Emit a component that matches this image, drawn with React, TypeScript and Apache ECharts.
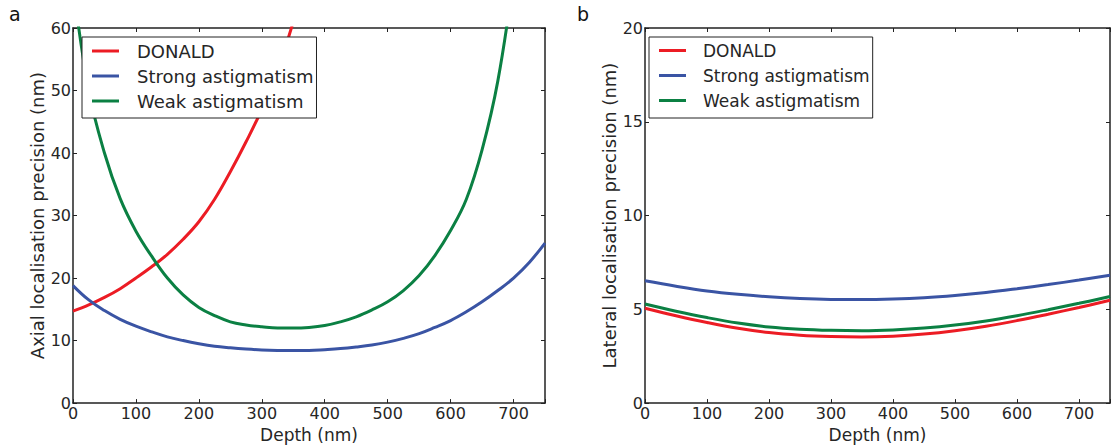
import React, { useEffect, useRef } from "react";
import * as echarts from "echarts";

// Depth (nm) sampling for panel a
const axialX = [0, 25, 50, 75, 100, 125, 150, 175, 200, 225, 250, 275, 300, 325, 350, 375, 400, 425, 450, 475, 500, 525, 550, 575, 600, 625, 650, 675, 700, 725, 750];

// Axial precision (nm), panel a
const axialDonald = [14.7, 15.7, 16.9, 18.3, 20.0, 21.8, 23.8, 26.2, 29.0, 32.6, 37.0, 41.8, 47.0, 53.2, 61.0];
const axialStrong = [18.8, 16.5, 14.8, 13.4, 12.3, 11.4, 10.6, 10.0, 9.5, 9.1, 8.85, 8.65, 8.5, 8.42, 8.4, 8.42, 8.55, 8.72, 8.98, 9.3, 9.75, 10.35, 11.1, 12.1, 13.2, 14.6, 16.2, 18.0, 20.0, 22.5, 25.6];
const axialWeak = [67, 50.0, 40.0, 32.7, 27.5, 23.5, 20.0, 17.3, 15.3, 14.0, 13.0, 12.5, 12.2, 12.0, 12.0, 12.1, 12.4, 13.0, 13.8, 14.9, 16.2, 18.0, 20.4, 23.6, 27.6, 32.6, 40.5, 51.5, 68.0];

// Depth (nm) sampling for panel b
const lateralX = [0, 50, 100, 150, 200, 250, 300, 350, 400, 450, 500, 550, 600, 650, 700, 750];

// Lateral precision (nm), panel b
const lateralDonald = [5.06, 4.66, 4.30, 3.99, 3.76, 3.62, 3.55, 3.53, 3.57, 3.68, 3.86, 4.10, 4.40, 4.74, 5.10, 5.48];
const lateralStrong = [6.52, 6.23, 5.98, 5.80, 5.67, 5.58, 5.53, 5.52, 5.55, 5.62, 5.74, 5.90, 6.10, 6.32, 6.56, 6.82];
const lateralWeak = [5.28, 4.90, 4.56, 4.27, 4.06, 3.94, 3.88, 3.86, 3.90, 4.00, 4.16, 4.38, 4.66, 4.98, 5.32, 5.68];

const seriesNames = ["DONALD", "Strong astigmatism", "Weak astigmatism"];
const colors = ["#ec1c24", "#3a54a4", "#0b8043"];

const FONT = "DejaVu Sans";
const TEXT = "#262626";
const AX = "#222222";

function zip(xs: number[], ys: number[]) {
  return ys.map((y, i) => [xs[i], y]);
}

export default function App() {
  const ref = useRef<HTMLDivElement>(null);
  useEffect(() => {
    if (!ref.current) return;
    const chart = echarts.init(ref.current, null, { renderer: "svg" });
    const grids = [
      { left: 73, top: 28, width: 472, height: 378 },
      { left: 645, top: 28, width: 472, height: 378 },
    ];
    const xAxes: any[] = [];
    const yAxes: any[] = [];
    const yMax = [60, 20];
    const yInt = [10, 5];
    const yNames = ["Axial localisation precision (nm)", "Lateral localisation precision (nm)"];
    const tick = { show: true, inside: true, length: 4, lineStyle: { color: AX, width: 1 } };
    const line = { show: true, onZero: false, lineStyle: { color: AX, width: 1.5 } };
    for (let g = 0; g < 2; g++) {
      xAxes.push({
        gridIndex: g, type: "value", min: 0, max: 750, interval: 100, position: "bottom",
        splitLine: { show: false }, axisLine: line, axisTick: tick,
        axisLabel: {
          color: TEXT, fontFamily: FONT, fontSize: 16, margin: 5, lineHeight: 10,
          formatter: (v: number) => (v % 100 === 0 ? String(v) : ""),
        },
        name: "Depth (nm)", nameLocation: "middle", nameGap: 21,
        nameTextStyle: { color: TEXT, fontFamily: FONT, fontSize: 17 },
      });
      xAxes.push({
        gridIndex: g, type: "value", min: 0, max: 750, interval: 100, position: "top",
        splitLine: { show: false }, axisLine: line, axisTick: tick,
        axisLabel: { show: false },
      });
      yAxes.push({
        gridIndex: g, type: "value", min: 0, max: yMax[g], interval: yInt[g], position: "left",
        splitLine: { show: false }, axisLine: line, axisTick: tick,
        axisLabel: { color: TEXT, fontFamily: FONT, fontSize: 16, margin: 2, lineHeight: 10 },
        name: yNames[g], nameLocation: "middle", nameGap: 27, nameRotate: 90,
        nameTextStyle: { color: TEXT, fontFamily: FONT, fontSize: 18 },
      });
      yAxes.push({
        gridIndex: g, type: "value", min: 0, max: yMax[g], interval: yInt[g], position: "right",
        splitLine: { show: false }, axisLine: line, axisTick: tick,
        axisLabel: { show: false },
      });
    }
    const mk = (name: string, ci: number, g: number, data: number[][]) => ({
      name, type: "line", xAxisIndex: g * 2, yAxisIndex: g * 2, data,
      showSymbol: false, symbol: "none", smooth: 0.4, clip: true,
      lineStyle: { color: colors[ci], width: 3 }, itemStyle: { color: colors[ci] },
    });
    const series = [
      mk(seriesNames[0], 0, 0, zip(axialX, axialDonald)),
      mk(seriesNames[1], 1, 0, zip(axialX, axialStrong)),
      mk(seriesNames[2], 2, 0, zip(axialX, axialWeak)),
      mk(seriesNames[0], 0, 1, zip(lateralX, lateralDonald)),
      mk(seriesNames[1], 1, 1, zip(lateralX, lateralStrong)),
      mk(seriesNames[2], 2, 1, zip(lateralX, lateralWeak)),
    ];
    const legendBase = {
      orient: "vertical", data: seriesNames, icon: "rect", itemWidth: 27, itemHeight: 3,
      borderColor: "#222", borderWidth: 1, backgroundColor: "#fff", selectedMode: false,
    };
    chart.setOption({
      animation: false,
      backgroundColor: "#fff",
      grid: grids,
      xAxis: xAxes,
      yAxis: yAxes,
      series,
      legend: [
        {
          ...legendBase, left: 82, top: 37, itemGap: 7, padding: [5, 3, 8, 10],
          textStyle: { color: TEXT, fontFamily: FONT, fontSize: 18, padding: [0, 0, 0, 13] },
        },
        {
          ...legendBase, left: 649, top: 37, itemGap: 8, padding: [5, 3, 9, 10],
          textStyle: { color: TEXT, fontFamily: FONT, fontSize: 17, padding: [0, 0, 0, 12] },
        },
      ],
      graphic: [
        { type: "text", left: 9, top: 4, style: { text: "a", fill: "#111", font: `19px ${FONT}` } },
        { type: "text", left: 577, top: 4, style: { text: "b", fill: "#111", font: `19px ${FONT}` } },
      ],
    });
    return () => chart.dispose();
  }, []);
  return (
    <div
      ref={ref}
      style={{ position: "absolute", left: 0, top: 0, width: 1113, height: 448 }}
    />
  );
}
